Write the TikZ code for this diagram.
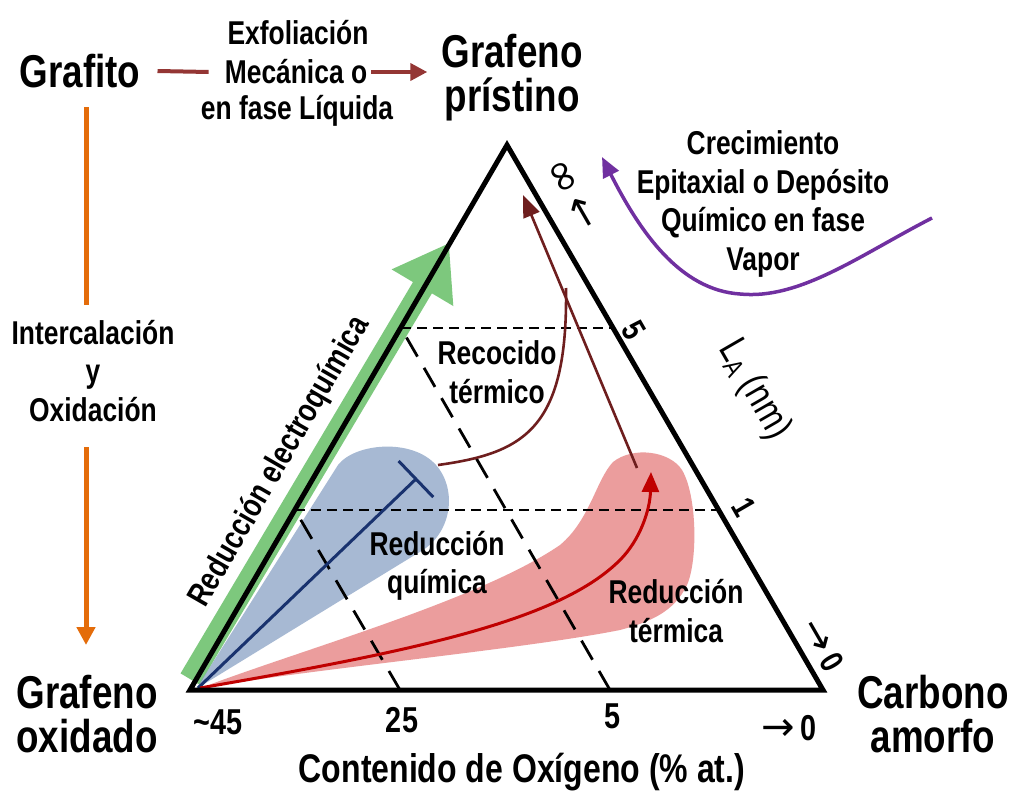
\documentclass[tikz,border=0pt]{standalone}
\usepackage{fontspec}
\setmainfont{Liberation Sans}[FakeStretch=0.8]
\newfontfamily\symfont{DejaVu Sans}
\usetikzlibrary{arrows.meta}
\definecolor{arrbrown}{RGB}{148,54,52}
\definecolor{arrorange}{RGB}{228,108,10}
\definecolor{arrpurple}{RGB}{112,48,160}
\definecolor{bandgreen}{RGB}{125,200,125}
\definecolor{blobblue}{RGB}{120,148,188}
\definecolor{blobred}{RGB}{222,92,92}
\definecolor{linered}{RGB}{192,0,0}
\definecolor{linenavy}{RGB}{25,50,110}
\definecolor{annealbrown}{RGB}{110,30,30}
\begin{document}
\begin{tikzpicture}[x=1pt,y=-1pt,
  lbl/.style={font=\bfseries\fontsize{33}{38.5}\selectfont, align=center, inner sep=0pt},
  big/.style={font=\bfseries\fontsize{46}{44}\selectfont, align=center, inner sep=0pt},
  num/.style={font=\bfseries\fontsize{36}{36}\selectfont, inner sep=0pt},
  edgelbl/.style={font=\bfseries\fontsize{33}{33}\selectfont, inner sep=0pt, rotate=-60},
  hdash/.style={line width=2.6pt, dash pattern=on 10pt off 6pt},
  sdash/.style={line width=2.8pt, dash pattern=on 22pt off 13pt},
]
\useasboundingbox (0,0) rectangle (1011,792);
\fill[white] (0,0) rectangle (1011,792);

% triangle corners
\coordinate (A) at (507,145);
\coordinate (L) at (190,690);
\coordinate (R) at (823,690);

% green band arrow
\draw[bandgreen, line width=22pt, -{Triangle[length=52pt,width=68pt]}] (190,679) -- (449,243);

% blobs
\fill[blobblue, opacity=0.65] (196,689) -- (338,465) .. controls (355,443) and (412,438) .. (436,465)
  .. controls (458,490) and (452,535) .. (418,553) -- cycle;
\fill[blobred, opacity=0.6] (198,689) .. controls (300,650) and (480,600) .. (560,545)
  .. controls (590,520) and (596,480) .. (613,462)
  .. controls (633,446) and (670,451) .. (682,470)
  .. controls (697,495) and (698,560) .. (687,585)
  .. controls (674,612) and (650,622) .. (620,630)
  .. controls (520,650) and (300,670) .. (198,689) -- cycle;

% dashed guide lines
\coordinate (h1l) at (401,328); \coordinate (h1r) at (613,328);
\coordinate (h2l) at (295,510); \coordinate (h2r) at (719,510);
\coordinate (b25) at (400,690); \coordinate (b5) at (610,690);
\draw[hdash] (h1l) -- (h1r);
\draw[hdash] (h2l) -- (h2r);
\draw[sdash] (b25) -- (h2l);
\draw[sdash] (b5) -- (h1l);

% chemical reduction line
\draw[linenavy, line width=3pt, -{Bar[width=50pt]}] (198,688) -- (417,478);
% thermal reduction line
\draw[linered, line width=3pt, -{Triangle[length=20pt,width=17pt]}] (200,688) .. controls (420,650) and (560,620) .. (620,560)
  .. controls (640,540) and (650,510) .. (651,472);
% annealing
\coordinate (annS) at (438,465);
\coordinate (annT) at (566,288);
\draw[annealbrown, line width=2.6pt] (annS) .. controls (525,453) and (568,428) .. (annT);
\draw[annealbrown, line width=2.6pt, -{Triangle[length=22pt,width=17pt]}] (637,468) -- (523,195);

% triangle
\draw[line width=5pt, line join=miter] (L) -- (A) -- (R) -- cycle;

% top labels
\node[big] (grafito) at (80,71) {Grafito};
\node[big] (gprist) at (512,78) {Grafeno\\prístino};
\node[lbl] (exf) at (298,33) {Exfoliación};
\node[lbl] (mec) at (296,72) {Mecánica o};
\node[lbl] (liq) at (297,111) {en fase Líquida};
\draw[arrbrown, line width=4pt] ([xshift=17pt]grafito.east) -- ([xshift=-16pt]mec.west);
\draw[arrbrown, line width=4pt, -{Triangle[length=17pt,width=17pt]}] ([xshift=4pt]mec.east) -- ([xshift=-14pt]gprist.west |- mec.east);

% left labels
\node[lbl] (interc) at (93,371) {Intercalación\\y\\Oxidación};
\coordinate (o1) at (86,107); \coordinate (o2) at (86,305);
\coordinate (o3) at (86,447); \coordinate (o4) at (86,645);
\draw[arrorange, line width=5pt] (o1) -- (o2);
\draw[arrorange, line width=5pt, -{Triangle[length=18pt,width=18pt]}] (o3) -- (o4);

% CVD
\node[lbl] (crec) at (763,204) {Crecimiento\\Epitaxial o Depósito\\Químico en fase\\Vapor};
\coordinate (p1) at (932,218);
\coordinate (p2) at (602,157);
\draw[arrpurple, line width=3.5pt, -{Triangle[length=20pt,width=17pt]}] (p1) .. controls (860,255) and (800,300) .. (740,294)
  .. controls (680,290) and (640,232) .. (p2);

% corner labels
\node[big] (gox) at (87,714) {Grafeno\\oxidado};
\node[big] (camorf) at (933,714) {Carbono\\amorfo};

% bottom axis
\node[num] (n45) at (218,722) {\textasciitilde45};
\node[num] (n25) at (402,720) {25};
\node[num] (n5) at (612,716) {5};
\node[num] (n0) at (789,728) {{\symfont\mdseries\fontsize{40}{40}\selectfont →}\,0};
\node[font=\bfseries\fontsize{40}{40}\selectfont, inner sep=0pt] (cont) at (522,772) {Contenido de Oxígeno (\% at.)};

% right-edge scale
\node[edgelbl] (inf) at (571,195) {{\symfont\mdseries\fontsize{44}{44}\selectfont ∞}\,{\symfont\mdseries\fontsize{40}{40}\selectfont ←}};
\node[edgelbl] (s5) at (634,330) {5};
\node[edgelbl] (s1) at (744,507) {1};
\node[edgelbl] (s0) at (822,645) {{\symfont\mdseries\fontsize{40}{40}\selectfont →}\,0};
\node[font=\fontsize{40}{40}\selectfont, inner sep=0pt, rotate=-60] (la) at (754,390) {L{\fontsize{27}{27}\selectfont\raisebox{-5pt}{A}} (nm)};

% inner labels
\node[lbl] (recoc) at (497,372) {Recocido\\térmico};
\node[lbl] (redq) at (437,566) {Reducción\\química};
\node[lbl] (redt) at (676,611) {Reducción\\térmica};
\node[lbl, rotate=60] (elec) at (280,462) {Reducción electroquímica};
\end{tikzpicture}
\end{document}
